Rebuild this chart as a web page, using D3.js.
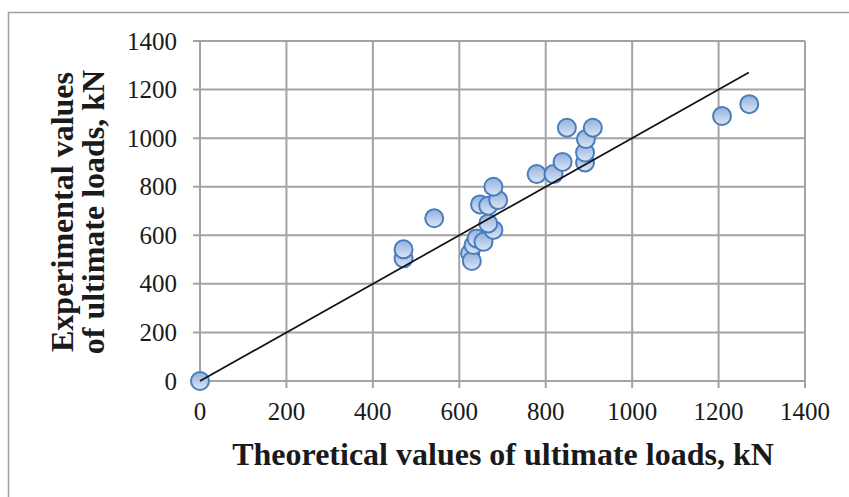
<!DOCTYPE html>
<html>
<head>
<meta charset="utf-8">
<script src="https://d3js.org/d3.v7.min.js"></script>
<style>
    body { margin: 0; background: #fff; }
    text { font-family: "Liberation Serif", "Times New Roman", serif; fill: #1a1a1a; }
</style>
</head>
<body>
<div id="scatter_chart"></div>
<script>
// values (kN)
let theoretical  = [0, 471, 471, 542, 625, 629, 633, 640, 656, 679, 667, 648, 667, 690, 679, 779, 818, 839, 849, 891, 891, 893, 909, 1208, 1271];
let experimental = [0, 505, 542, 670, 526, 494, 560, 587, 573, 622, 649, 727, 722, 745, 800, 852, 852, 902, 1043, 900, 941, 996, 1043, 1091, 1140];
let xTicks = [0, 200, 400, 600, 800, 1000, 1200, 1400];
let yTicks = [0, 200, 400, 600, 800, 1000, 1200, 1400];
let fitLine = [0, 1270];

let config = {
    svg: { width: 849, height: 497 },
    plot: { x: 200, y: 41, width: 605, height: 340 }
};

let svg = d3.select('#scatter_chart')
    .append('svg')
        .attr('width', config.svg.width)
        .attr('height', config.svg.height);

// outer frame (runs off the right and bottom edge)
svg.append('rect')
    .attr('x', 8.5).attr('y', 12.5)
    .attr('width', 900).attr('height', 600)
    .style('fill', 'none')
    .style('stroke', '#a0a0a0')
    .style('stroke-width', 1.5);

let defs = svg.append('defs');
let grad = defs.append('linearGradient')
    .attr('id', 'marker_fill')
    .attr('x1', 0).attr('y1', 0).attr('x2', 0).attr('y2', 1);
grad.append('stop').attr('offset', '0%').attr('stop-color', '#93b0de');
grad.append('stop').attr('offset', '100%').attr('stop-color', '#dce6f5');

let plot = svg.append('g')
    .attr('transform', translate(config.plot.x, config.plot.y));

let x = d3.scaleLinear().domain([0, 1400]).range([0, config.plot.width]);
let y = d3.scaleLinear().domain([0, 1400]).range([config.plot.height, 0]);

// grid
plot.append('g')
    .selectAll('line')
    .data(xTicks)
    .enter()
    .append('line')
        .attr('x1', (d) => x(d)).attr('x2', (d) => x(d))
        .attr('y1', 0).attr('y2', config.plot.height + 7)
        .style('stroke', '#a3a3a3')
        .style('stroke-width', 2);

plot.append('g')
    .selectAll('line')
    .data(yTicks)
    .enter()
    .append('line')
        .attr('x1', -7).attr('x2', config.plot.width)
        .attr('y1', (d) => y(d)).attr('y2', (d) => y(d))
        .style('stroke', '#a3a3a3')
        .style('stroke-width', 2);

// tick labels
plot.append('g')
    .selectAll('text')
    .data(xTicks)
    .enter()
    .append('text')
        .attr('x', (d) => x(d))
        .attr('y', config.plot.height + 39)
        .style('text-anchor', 'middle')
        .style('font-size', '25px')
        .text((d) => d);

plot.append('g')
    .selectAll('text')
    .data(yTicks)
    .enter()
    .append('text')
        .attr('x', -23)
        .attr('y', (d) => y(d) + 8.5)
        .style('text-anchor', 'end')
        .style('font-size', '25px')
        .text((d) => d);

// points
plot.append('g')
    .selectAll('circle')
    .data(theoretical.map((t, i) => ({ t: t, e: experimental[i] })))
    .enter()
    .append('circle')
        .attr('cx', (d) => x(d.t))
        .attr('cy', (d) => y(d.e))
        .attr('r', 9)
        .style('fill', 'url(#marker_fill)')
        .style('stroke', '#4a7ebb')
        .style('stroke-width', 2);

// reference line
plot.append('line')
    .attr('x1', x(fitLine[0])).attr('y1', y(fitLine[0]))
    .attr('x2', x(fitLine[1])).attr('y2', y(fitLine[1]))
    .style('stroke', '#111')
    .style('stroke-width', 1.7);

// x axis title
svg.append('text')
    .attr('x', 503)
    .attr('y', 465)
    .style('text-anchor', 'middle')
    .style('font-size', '32px')
    .style('font-weight', 'bold')
    .text('Theoretical values of ultimate loads, kN');

// y axis title, two lines
let yTitle = svg.append('text')
    .attr('transform', translate(73, 212) + ' rotate(-90)')
    .style('text-anchor', 'middle')
    .style('font-size', '32px')
    .style('font-weight', 'bold');
yTitle.append('tspan').attr('x', 0).attr('y', 0).text('Experimental values');
yTitle.append('tspan').attr('x', 0).attr('y', 31).text('of ultimate loads, kN');

// helper method to make translating easier
function translate(x, y) {
    return 'translate(' + x + ',' + y + ')';
}
</script>
</body>
</html>
